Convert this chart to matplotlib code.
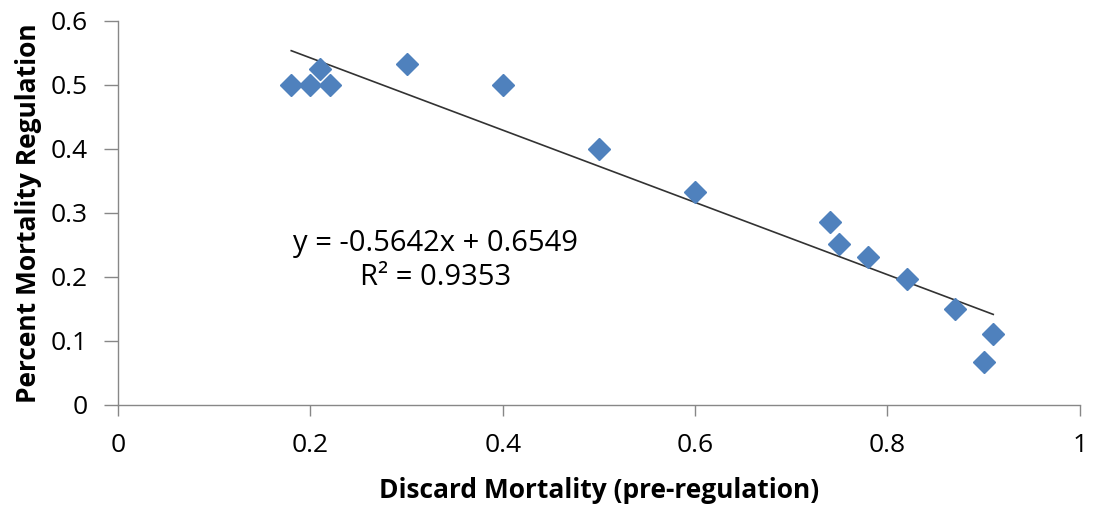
import numpy as np
import matplotlib
matplotlib.use("Agg")
import matplotlib.pyplot as plt

plt.rcParams['font.family'] = ['Open Sans', 'DejaVu Sans']

discard = [0.18, 0.20, 0.21, 0.22, 0.30, 0.40, 0.50, 0.60, 0.74, 0.75, 0.78, 0.82, 0.87, 0.90, 0.91]
percent = [0.500, 0.500, 0.525, 0.500, 0.533, 0.500, 0.400, 0.333, 0.286, 0.252, 0.231, 0.196, 0.150, 0.067, 0.111]
slope, intercept = -0.5642, 0.6549
x_ticks = [0, 0.2, 0.4, 0.6, 0.8, 1]
x_tick_labels = ['0', '0.2', '0.4', '0.6', '0.8', '1']
y_ticks = [0, 0.1, 0.2, 0.3, 0.4, 0.5, 0.6]
y_tick_labels = ['0', '0.1', '0.2', '0.3', '0.4', '0.5', '0.6']

fig = plt.figure(figsize=(10.94, 5.15), dpi=100)
ax = fig.add_axes([0.108, 0.2136, 0.879, 0.746])

ax.plot(discard, percent, linestyle='none', marker='D', markersize=11,
        color='#4F81BD', markeredgecolor='#4F81BD', zorder=3)

xl = np.array([min(discard), max(discard)])
ax.plot(xl, slope * xl + intercept, color='#333333', linewidth=1.2, zorder=2)

ax.set_xlim(0, 1)
ax.set_ylim(0, 0.6)
ax.set_xticks(x_ticks)
ax.set_xticklabels(x_tick_labels)
ax.set_yticks(y_ticks)
ax.set_yticklabels(y_tick_labels)

for s in ['top', 'right']:
    ax.spines[s].set_visible(False)
for s in ['left', 'bottom']:
    ax.spines[s].set_color('#878787')
    ax.spines[s].set_linewidth(1.0)

ax.tick_params(axis='both', colors='#878787', labelcolor='black', labelsize=19,
               width=1.0)
ax.tick_params(axis='x', length=8, pad=12)
ax.tick_params(axis='y', length=10, pad=12)

ax.set_xlabel('Discard Mortality (pre-regulation)', fontsize=19, fontweight='bold', labelpad=14)
ax.set_ylabel('Percent Mortality Regulation', fontsize=19, fontweight='bold', labelpad=6)

ax.text(0.33, 0.226, 'y = -0.5642x + 0.6549\nR² = 0.9353', ha='center', va='center',
        fontsize=21, linespacing=1.25, transform=ax.transData)

fig.savefig('out.png', dpi=100)
